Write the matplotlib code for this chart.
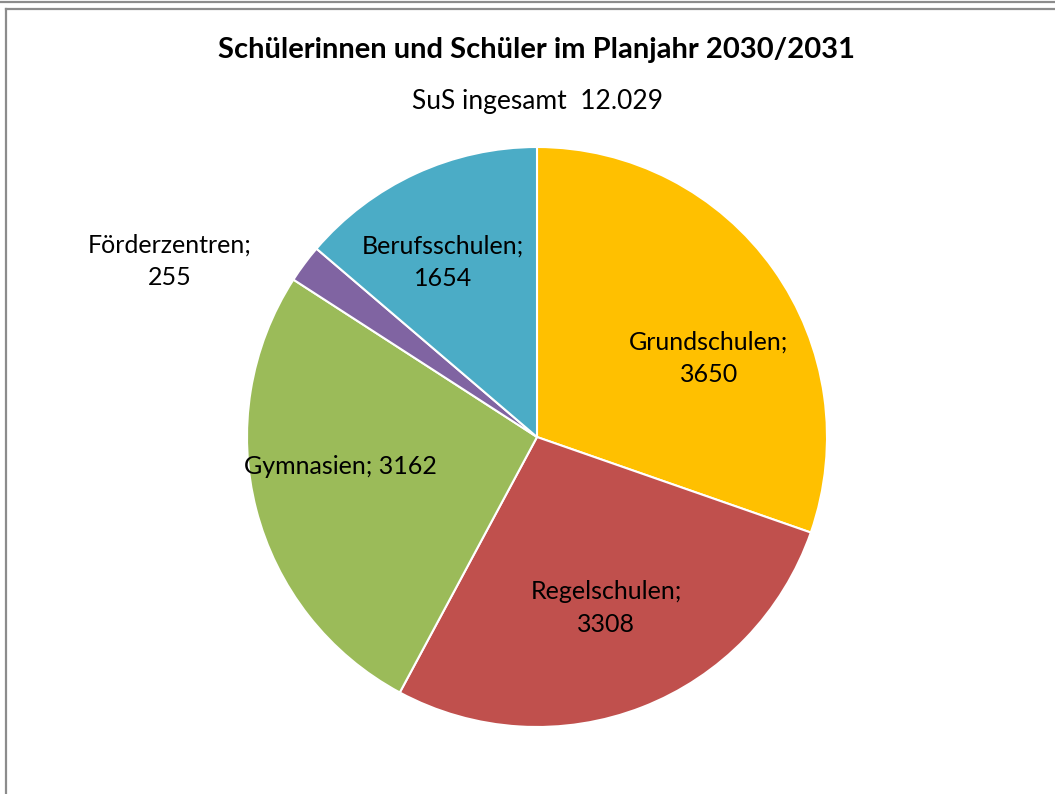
import matplotlib
matplotlib.use('Agg')
import matplotlib.pyplot as plt
from matplotlib.lines import Line2D

plt.rcParams['font.family'] = ['Lato', 'DejaVu Sans']

# Daten
schularten = ['Grundschulen', 'Regelschulen', 'Gymnasien', 'Förderzentren', 'Berufsschulen']
schueler = [3650, 3308, 3162, 255, 1654]
farben = ['#FFC000', '#C0504D', '#9BBB59', '#8064A2', '#4BACC6']
titel = 'Schülerinnen und Schüler im Planjahr 2030/2031'
untertitel = 'SuS ingesamt  12.029'

# Label-Positionen (in Radius-Einheiten) und Umbruch
label_pos = [(0.593, 0.272), (0.238, -0.590), (-0.679, -0.103), (-1.266, 0.607), (-0.324, 0.603)]
label_sep = ['\n', '\n', ' ', '\n', '\n']

W, H = 1055, 794
fig = plt.figure(figsize=(W / 100, H / 100), dpi=100)

# Rahmenlinien
def px_line(x0, y0, x1, y1):
    fig.add_artist(Line2D([x0 / W, x1 / W], [1 - y0 / H, 1 - y1 / H],
                          color='#8c8c8c', linewidth=1.6, transform=fig.transFigure))

px_line(0, 1.5, W, 1.5)
px_line(5.5, 8.8, W, 8.8)
px_line(5.5, 8.8, 5.5, H)

# Kreis: Mittelpunkt (537, 437), Radius 290 px
cx, cy, r = 537, 437, 290
ax = fig.add_axes([(cx - r) / W, (H - cy - r) / H, 2 * r / W, 2 * r / H])
ax.pie(schueler, colors=farben, startangle=90, counterclock=False, radius=1,
       wedgeprops=dict(edgecolor='white', linewidth=1.5))
ax.set_xlim(-1, 1)
ax.set_ylim(-1, 1)
ax.set_aspect('equal')
ax.axis('off')

for name, wert, (lx, ly), sep in zip(schularten, schueler, label_pos, label_sep):
    ax.text(lx, ly, f'{name};{sep}{wert}', ha='center', va='center',
            fontsize=18, color='black', clip_on=False, linespacing=1.5)

fig.text(537 / W, 1 - 50 / H, titel, ha='center', va='center',
         fontsize=21, fontweight='bold')
fig.text(537 / W, 1 - 102 / H, untertitel, ha='center', va='center', fontsize=19)

fig.savefig('out.png', dpi=100)
